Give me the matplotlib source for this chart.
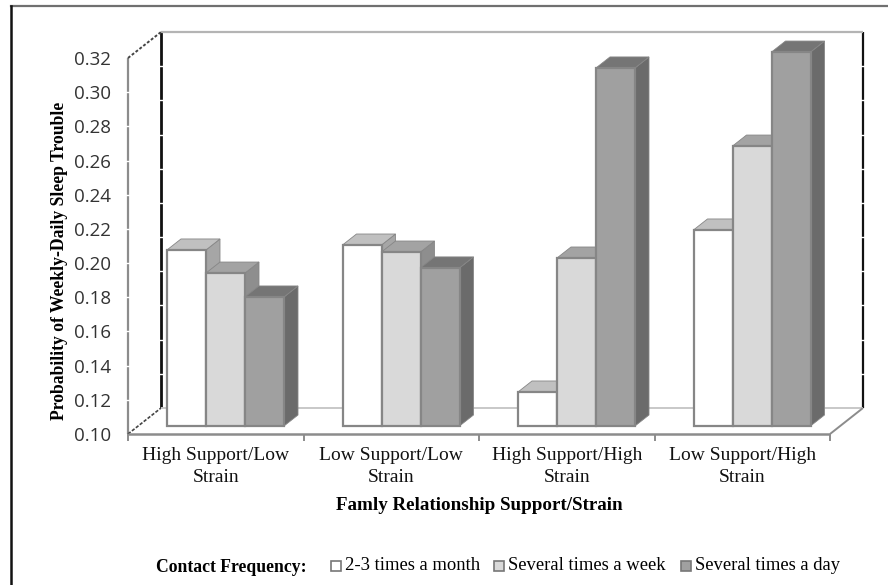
import numpy as np
from matplotlib import pyplot as plt
from matplotlib.lines import Line2D
from matplotlib.patches import Polygon, Rectangle

plt.rcParams['font.family'] = ['Liberation Serif', 'DejaVu Serif']

groups = ['High Support/Low\nStrain', 'Low Support/Low\nStrain',
          'High Support/High\nStrain', 'Low Support/High\nStrain']
series_names = ['2-3 times a month', 'Several times a week', 'Several times a day']
two_three_month = [0.2030, 0.2059, 0.1199, 0.2147]
several_week = [0.1895, 0.2018, 0.1983, 0.2638]
several_day = [0.1755, 0.1925, 0.3095, 0.3188]
yticks = [0.10, 0.12, 0.14, 0.16, 0.18, 0.20, 0.22, 0.24, 0.26, 0.28, 0.30, 0.32]

W, H = 888, 585
front_col = ['#ffffff', '#d9d9d9', '#a0a0a0']
top_col = ['#c0c0c0', '#a3a3a3', '#757575']
side_col = ['#a6a6a6', '#8e8e8e', '#6b6b6b']
edge_col = '#868686'

fig = plt.figure(figsize=(W / 100, H / 100), dpi=100)

# outer frame only shows on the top and left of the picture
fig.add_artist(Line2D([11 / W, 1], [1 - 6 / H, 1 - 6 / H], color='#707070', lw=1.6))
fig.add_artist(Line2D([11 / W, 11 / W], [0, 1 - 6 / H], color='#111111', lw=1.8))

# axes is the front plane of the fake 3D box, everything else hangs off it
L, R, T, B = 128, 830, 58, 434
ax = fig.add_axes([L / W, 1 - B / H, (R - L) / W, (B - T) / H])
ax.set_xlim(0, 4)
ax.set_ylim(0.10, 0.32)
ux = 4 / (R - L)      # data units per pixel
uy = 0.22 / (B - T)
box_dx, box_dy = 33 * ux, 26 * uy      # depth of whole box
bar_dy = 8 * uy                        # where the bars stand
side_dx, side_dy = 14 * ux, 11 * uy    # depth of a bar
bar_w = 39 * ux
y0, y1 = 0.10, 0.32

for s in ax.spines.values():
    s.set_visible(False)
ax.patch.set_visible(False)

# walls and floor
def wall(xs, ys, color, lw=1.4, ls='-', z=1):
    ax.plot(xs, ys, color=color, lw=lw, ls=ls, zorder=z, clip_on=False, solid_capstyle='butt')

wall([0, 0], [y0, y1], '#8c8c8c', lw=1.6)
wall([box_dx, box_dx], [y0 + box_dy, y1 + box_dy], '#111111', lw=2)
wall([4 + box_dx, 4 + box_dx], [y0 + box_dy, y1 + box_dy], '#111111', lw=1.6)
wall([box_dx, 4 + box_dx], [y1 + box_dy, y1 + box_dy], '#b4b4b4', lw=1.6)
wall([0, box_dx], [y1, y1 + box_dy], '#444444', lw=1.4, ls=(0, (1.5, 1)))
wall([0, box_dx], [y0, y0 + box_dy], '#444444', lw=1.2, ls=(0, (2, 1)))
wall([box_dx, 4 + box_dx], [y0 + box_dy, y0 + box_dy], '#c8c8c8', lw=1.4)
wall([4, 4 + box_dx], [y0, y0 + box_dy], '#8c8c8c', lw=1.4)
wall([0, 4], [y0, y0], '#8c8c8c', lw=1.8)

# small white nicks where the ticks cross the back wall lines
for t in yticks[1:-1]:
    for xb in [0, box_dx, 4 + box_dx]:
        yb = t + (box_dy if xb > 0 else 0)
        ax.plot([xb - 3 * ux, xb + 3 * ux], [yb, yb], color='white', lw=1, zorder=1.5, clip_on=False)

# bars, left to right so each one covers the side of the one before
values = [two_three_month, several_week, several_day]
z = 2
for g in range(len(groups)):
    for i, vals in enumerate(values):
        x = g + 39 * ux + i * bar_w
        v = vals[g]
        base = y0 + bar_dy
        top = v + bar_dy
        ax.add_patch(Polygon([(x + bar_w, base), (x + bar_w + side_dx, base + side_dy),
                              (x + bar_w + side_dx, top + side_dy), (x + bar_w, top)],
                             closed=True, fc=side_col[i], ec=edge_col, lw=0.6, zorder=z, clip_on=False))
        ax.add_patch(Polygon([(x, top), (x + side_dx, top + side_dy),
                              (x + bar_w + side_dx, top + side_dy), (x + bar_w, top)],
                             closed=True, fc=top_col[i], ec=edge_col, lw=0.6, zorder=z, clip_on=False))
        ax.bar(x, v - y0, width=bar_w, bottom=base, align='edge', color=front_col[i],
               edgecolor=edge_col, linewidth=1.6, zorder=z + 0.5, clip_on=False)
        z += 1

ax.set_xticks(range(5))
ax.set_xticklabels([])
ax.tick_params(axis='x', length=5, width=1.4, color='#8c8c8c')
ax.set_yticks(yticks)
ax.set_yticklabels(['%.2f' % t for t in yticks], fontsize=13.5, color='#333333',
                   family=['Open Sans', 'DejaVu Sans'])
ax.tick_params(axis='y', length=0, pad=12.5)

for g, name in enumerate(groups):
    ax.text(g + 0.5, y0 - 13 * uy, name, ha='center', va='top', fontsize=14,
            linespacing=1.4, color='#111111')

fig.text(479 / W, 1 - 506 / H, 'Famly Relationship Support/Strain', ha='center', va='center',
         fontsize=13.7, fontweight='bold')
fig.text(59 / W, 1 - 261 / H, 'Probability of Weekly-Daily Sleep Trouble', rotation=90,
         ha='center', va='center', fontsize=12.7, fontweight='bold')

# legend row
fig.text(156 / W, 1 - 567 / H, 'Contact Frequency:', ha='left', va='center',
         fontsize=12.7, fontweight='bold')
leg_sq = [331, 494, 681]
leg_tx = [345, 508, 695]
for i, name in enumerate(series_names):
    fig.patches.append(Rectangle((leg_sq[i] / W, 1 - 571 / H), 10 / W, 10 / H,
                                 transform=fig.transFigure, fc=front_col[i], ec='#777777', lw=1.2))
    fig.text(leg_tx[i] / W, 1 - 566 / H, name, ha='left', va='center', fontsize=13.4)

fig.savefig('out.png', dpi=100)
